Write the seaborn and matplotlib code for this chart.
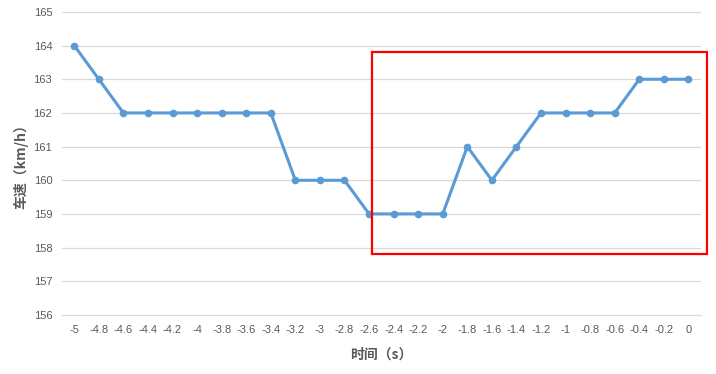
import numpy as np
import pandas as pd
import matplotlib
matplotlib.use("Agg")
import matplotlib.pyplot as plt
import seaborn as sns
from matplotlib.patches import Rectangle

# time before event (s) and vehicle speed (km/h)
time_s = [-5, -4.8, -4.6, -4.4, -4.2, -4, -3.8, -3.6, -3.4, -3.2, -3, -2.8, -2.6,
          -2.4, -2.2, -2, -1.8, -1.6, -1.4, -1.2, -1, -0.8, -0.6, -0.4, -0.2, 0]
speed = [164, 163, 162, 162, 162, 162, 162, 162, 162, 160, 160, 160, 159,
         159, 159, 159, 161, 160, 161, 162, 162, 162, 162, 163, 163, 163]
tick_labels = ["-5", "-4.8", "-4.6", "-4.4", "-4.2", "-4", "-3.8", "-3.6", "-3.4",
               "-3.2", "-3", "-2.8", "-2.6", "-2.4", "-2.2", "-2", "-1.8", "-1.6",
               "-1.4", "-1.2", "-1", "-0.8", "-0.6", "-0.4", "-0.2", "0"]
y_ticks = [156, 157, 158, 159, 160, 161, 162, 163, 164, 165]

sns.set_style("white")
plt.rcParams['font.family'] = ['Liberation Sans', 'Noto Sans CJK SC', 'DejaVu Sans']

df = pd.DataFrame({"t": time_s, "v": speed})

fig = plt.figure(figsize=(7.16, 3.74), dpi=100)
ax = fig.add_axes([0.0866, 0.158, 0.892, 0.81])

sns.lineplot(data=df, x="t", y="v", ax=ax, color="#5B9BD5", linewidth=2.2,
             marker="o", markersize=5.5, markeredgewidth=0, zorder=3)

ax.set_xlim(-5.1, 0.1)
ax.set_ylim(156, 165)
ax.set_xticks(time_s)
ax.set_xticklabels(tick_labels)
ax.set_yticks(y_ticks)
ax.grid(axis="y", color="#D9D9D9", linewidth=0.9)
for s in ["top", "right", "left"]:
    ax.spines[s].set_visible(False)
ax.spines["bottom"].set_color("#D9D9D9")
ax.tick_params(axis="both", length=0, labelsize=8, labelcolor="#595959", pad=7)

ax.set_xlabel("时间（s）", family=['Noto Sans CJK SC', 'DejaVu Sans'],
              fontsize=10, fontweight="bold", color="#595959", labelpad=9)
ax.set_ylabel("车速（km/h）", family=['Noto Sans CJK SC', 'DejaVu Sans'],
              fontsize=10, fontweight="bold", color="#595959", labelpad=4)

# highlight box
rect = Rectangle((-2.58, 157.81), 2.73, 6.0, fill=False, edgecolor="#FF0000",
                 linewidth=1.6, clip_on=False, zorder=4)
ax.add_patch(rect)

fig.savefig("out.png", dpi=100)
